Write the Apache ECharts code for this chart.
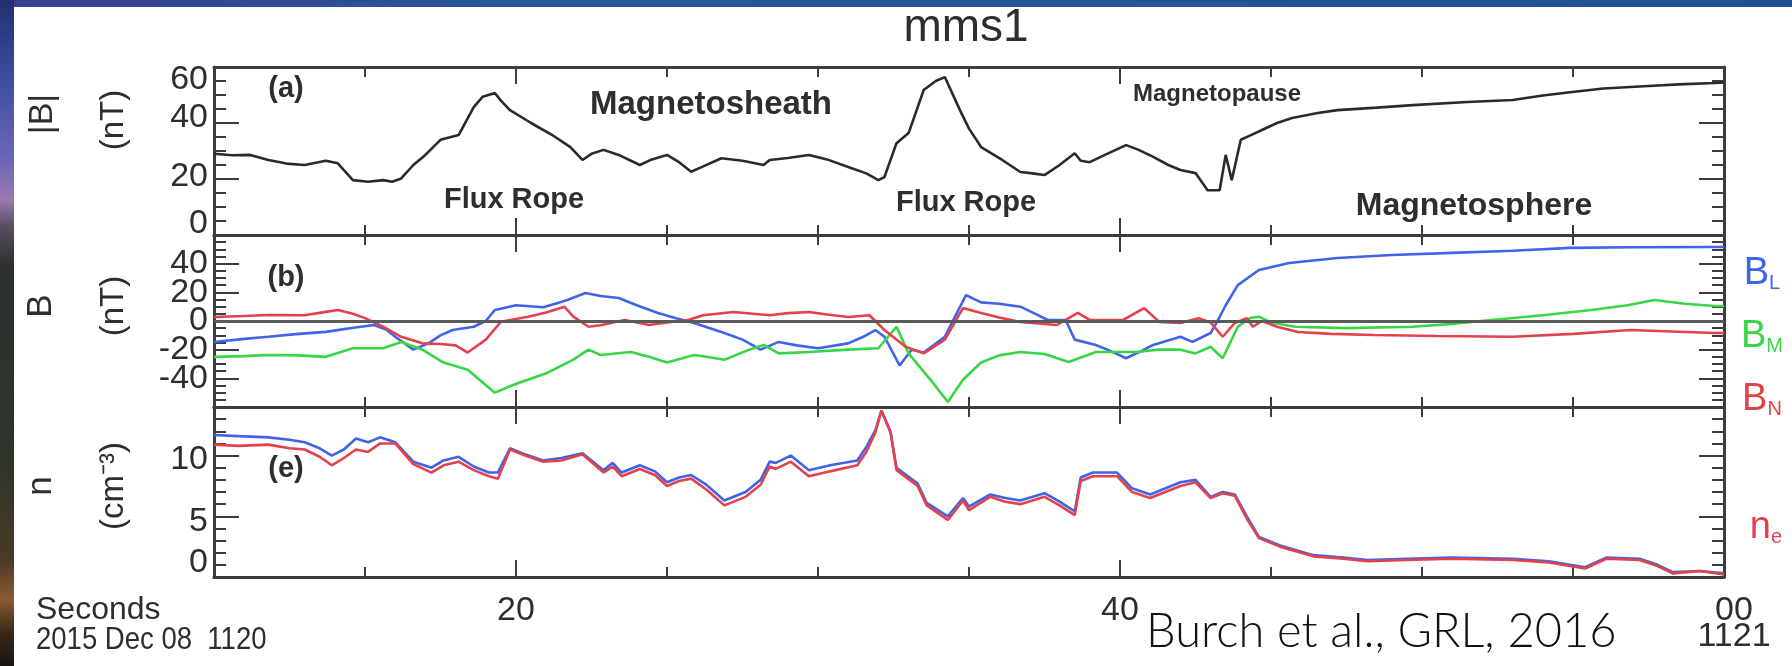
<!DOCTYPE html>
<html>
<head>
<meta charset="utf-8">
<script src="https://cdn.jsdelivr.net/npm/echarts@6/dist/echarts.min.js"></script>
<style>
  html, body { margin: 0; padding: 0; background: #ffffff; }
  #chart { width: 1792px; height: 666px; }
</style>
</head>
<body>
<div id="chart"></div>
<script>
// MMS1 burst data, 2015 Dec 08 11:20:10 - 11:21:00 UT (time in seconds after 11:20:00)

// |B| (nT)
const bMagTime = [10.0, 10.6, 11.2, 11.8, 12.4, 13.0, 13.7, 14.1, 14.6, 15.1, 15.6, 15.9, 16.2, 16.6, 17.0, 17.5, 18.1, 18.6, 18.9, 19.3, 19.5, 19.8, 20.5, 21.2, 21.8, 22.2, 22.5, 22.9, 23.4, 24.1, 24.5, 25.0, 25.4, 25.8, 26.2, 26.8, 27.5, 28.2, 28.4, 29.0, 29.7, 30.3, 31.0, 31.6, 32.0, 32.2, 32.6, 33.0, 33.5, 33.9, 34.2, 34.7, 35.0, 35.4, 36.1, 36.7, 37.1, 37.5, 38.0, 38.5, 38.7, 39.0, 39.5, 40.2, 40.6, 41.1, 41.6, 42.0, 42.5, 42.9, 43.3, 43.5, 43.7, 44.0, 44.3, 44.7, 45.2, 45.7, 46.5, 47.2, 48.5, 49.7, 51.5, 53.0, 54.0, 54.9, 56.0, 57.5, 58.5, 59.7, 60.0];
const bMag = [29, 28.5, 28.6, 26.8, 25.5, 25, 26.5, 25.6, 19.6, 19, 19.6, 19, 20.2, 25, 28.6, 34, 35.7, 45.7, 49.4, 50.7, 48, 44.6, 40, 35.7, 31.4, 26.8, 29, 30.4, 28.6, 25, 27, 28.6, 26, 22.6, 24.5, 27.4, 26.5, 25, 26.8, 27.5, 28.6, 27, 24.3, 22, 19.6, 20.7, 32.8, 36.4, 51.8, 55, 56.4, 44.6, 38, 31.4, 26.8, 22.5, 22, 21.4, 25, 29.2, 26.5, 26, 28.6, 32.1, 30.5, 27.9, 25, 23.2, 22.1, 16, 16, 28.6, 19.6, 34, 35.5, 37.5, 40, 41.8, 43.5, 44.6, 45.5, 46.4, 47.5, 48.2, 49.8, 51, 52.3, 53.2, 53.8, 54.3, 54.5];

// B_L (nT)
const bLTime = [10.0, 11.0, 11.8, 12.8, 13.7, 14.5, 15.3, 15.7, 16.0, 16.6, 17.1, 17.5, 17.9, 18.6, 19.0, 19.3, 20.0, 20.9, 21.3, 21.7, 22.3, 22.8, 23.4, 24.0, 24.7, 25.3, 25.9, 26.9, 27.5, 28.1, 28.7, 29.3, 30.0, 31.0, 31.5, 31.9, 32.2, 32.7, 33.1, 33.5, 34.2, 34.9, 35.4, 36.0, 36.7, 37.2, 37.6, 38.2, 38.5, 39.2, 39.7, 40.2, 40.7, 41.1, 42.0, 42.4, 43.0, 43.3, 43.5, 43.9, 44.6, 45.6, 47.2, 49.0, 51.0, 53.0, 54.9, 57.0, 59.7, 60.0];
const bL = [-14.6, -12.5, -11, -9, -7.6, -5, -2.8, -6, -11, -20, -15.6, -10, -6.3, -4, 0, 7.7, 11, 9.6, 12, 14.7, 19.5, 17.5, 16, 11, 5.6, 2, -1.4, -8.4, -13, -20, -14.6, -17, -19, -15.6, -11, -6.3, -11, -31, -20, -22, -11, 18, 13, 12, 10, 5, 0.7, 0.7, -13, -16.7, -21, -26, -21, -16.7, -11, -14.6, -8.4, 2.8, 11, 25, 35.6, 40.5, 44, 46, 47.5, 49, 51, 51.5, 51.6, 51.6];

// B_M (nT)
const bMTime = [10.0, 11.0, 11.8, 12.8, 13.7, 14.6, 15.6, 16.2, 16.9, 17.6, 18.4, 19.3, 19.9, 21.0, 21.9, 22.4, 22.8, 23.8, 24.4, 25.0, 25.9, 26.3, 26.9, 27.6, 28.2, 28.7, 29.7, 31.0, 32.0, 32.6, 33.0, 33.8, 34.3, 34.8, 35.4, 36.0, 36.7, 37.5, 38.3, 39.2, 40.5, 41.3, 42.0, 42.5, 43.0, 43.4, 43.9, 44.3, 44.6, 45.0, 45.8, 47.5, 49.7, 51.0, 52.3, 54.0, 55.6, 56.8, 57.7, 58.7, 59.7, 60.0];
const bM = [-25, -24.5, -23.7, -24, -25, -19, -19, -14.6, -20, -29, -34, -50, -44.7, -36.5, -27, -20, -23.7, -21.6, -25, -29, -23.7, -25, -27, -21, -16.7, -22.6, -21.6, -20, -19, -4, -22.6, -43, -56.5, -41, -29, -24, -21.6, -23, -28.6, -21.6, -21.6, -20, -20, -22.6, -18, -26, -4, 2, 3, -1, -4, -5, -4, -2, 0.7, 4, 7.7, 11, 14.7, 12, 10.5, 10.5];

// B_N (nT)
const bNTime = [10.0, 11.0, 11.8, 13.0, 13.6, 14.1, 14.6, 15.0, 15.6, 16.2, 16.9, 17.5, 18.0, 18.4, 19.0, 19.5, 20.4, 21.0, 21.6, 21.9, 22.4, 22.8, 23.6, 24.4, 25.0, 25.7, 26.2, 27.2, 28.4, 29.0, 29.7, 30.3, 31.0, 31.7, 32.2, 32.9, 33.5, 34.2, 34.8, 35.4, 36.0, 36.7, 37.9, 38.6, 39.0, 40.1, 40.8, 41.3, 42.0, 42.6, 43.0, 43.4, 43.8, 44.2, 44.4, 44.7, 45.2, 45.9, 47.0, 48.4, 50.5, 53.0, 55.0, 56.9, 58.5, 59.7, 60.0];
const bN = [2.8, 3.5, 4.2, 4, 6, 7.7, 5, 2, -4, -11, -15.6, -16, -17, -22, -13, -0.5, 3, 6, 10, 3, -4, -3, 0.7, -2.8, -1, 0.7, 4, 6.3, 4, 5.5, 6.3, 4.5, 2.8, 4, -6.3, -18, -22.6, -13, 9, 5.6, 2.5, -0.7, -2.8, 5.6, 0.7, 0.7, 9, -0.7, -1.4, 2, -1, -11, -1.4, 2, -4, 0, -4, -7.7, -9, -9.8, -10.5, -11, -9, -6.3, -7.5, -8.4, -8.4];

// ion (blue) and electron (red) densities (cm^-3)
const nTime = [10.0, 10.8, 11.8, 12.5, 13.0, 13.5, 13.9, 14.3, 14.7, 15.1, 15.5, 16.0, 16.6, 17.2, 17.6, 18.1, 18.6, 19.1, 19.4, 19.8, 20.3, 20.9, 21.5, 22.2, 22.9, 23.2, 23.5, 24.1, 24.6, 25.0, 25.4, 25.8, 26.3, 26.9, 27.6, 28.1, 28.4, 28.6, 29.1, 29.7, 30.4, 31.3, 31.6, 31.9, 32.1, 32.4, 32.6, 33.3, 33.6, 34.3, 34.8, 35.0, 35.7, 36.2, 36.7, 37.5, 38.0, 38.5, 38.7, 39.1, 39.9, 40.4, 41.0, 42.0, 42.5, 43.0, 43.4, 43.8, 44.2, 44.6, 45.3, 46.4, 47.4, 48.2, 49.5, 51.0, 53.0, 54.2, 54.9, 55.4, 56.1, 57.2, 57.8, 58.3, 59.2, 60.0];
const nIon = [11.7, 11.6, 11.5, 11.3, 11.1, 10.6, 10, 10.5, 11.4, 11.1, 11.5, 11.1, 9.5, 9, 9.6, 9.9, 9.1, 8.6, 8.6, 10.6, 10.1, 9.6, 9.8, 10.2, 8.8, 9.4, 8.6, 9.2, 8.7, 7.8, 8.2, 8.4, 7.6, 6.3, 7, 8, 9.5, 9.4, 10, 8.8, 9.2, 9.6, 10.7, 12.1, 13.7, 12, 9, 7.7, 6.1, 5, 6.5, 5.8, 6.8, 6.5, 6.3, 6.9, 6.2, 5.4, 8.2, 8.6, 8.6, 7.3, 6.8, 7.8, 8, 6.6, 7, 6.8, 5, 3.3, 2.6, 1.8, 1.6, 1.4, 1.5, 1.6, 1.5, 1.3, 1.0, 0.8, 1.6, 1.5, 1.0, 0.4, 0.5, 0.3];
const nElec = [10.9, 10.8, 10.9, 10.6, 10.5, 9.9, 9.2, 9.8, 10.5, 10.3, 11, 11, 9.3, 8.6, 9.2, 9.5, 8.8, 8.3, 8.1, 10.5, 10, 9.5, 9.6, 10.1, 8.6, 9.1, 8.3, 8.9, 8.4, 7.5, 7.9, 8.1, 7.2, 5.9, 6.6, 7.6, 9.1, 8.9, 9.5, 8.3, 8.7, 9.2, 10.3, 11.9, 13.7, 11.9, 8.8, 7.5, 5.9, 4.7, 6.3, 5.5, 6.6, 6.2, 6.0, 6.6, 5.9, 5.1, 7.9, 8.3, 8.3, 7.0, 6.5, 7.5, 7.8, 6.5, 6.9, 6.7, 4.8, 3.2, 2.5, 1.7, 1.5, 1.3, 1.4, 1.5, 1.4, 1.2, 0.9, 0.7, 1.5, 1.4, 0.9, 0.3, 0.5, 0.2];

// axis ranges and tick labels
const timeRange = [10, 60];
const timeLabelValues = [20, 40, 60];
const timeLabelText = ['20', '40', '00\n1121'];
const longTickValues = [20, 40];
const panelRanges = [
  { min: 0, max: 60, interval: 20, minor: 4 },
  { min: -60, max: 60, interval: 20, minor: 4 },
  { min: 0, max: 14, interval: 5, minor: 5 }
];

const zip = (t, v) => t.map((x, i) => [x, v[i]]);

const FONT = '"Liberation Sans", Arial, Helvetica, sans-serif';
const AXIS_COLOR = '#3c3c3c';
const TEXT_COLOR = '#2e2e2e';
const BLUE = '#4063ea';
const GREEN = '#38d646';
const RED = '#e4424a';
const TICK_FONT = 34;

// panel geometry (pixels)
const PLOT_LEFT = 214, PLOT_WIDTH = 1510;
const panelBoxes = [
  { top: 67, height: 168 },
  { top: 235, height: 172 },
  { top: 407, height: 170 }
];
// vertical nudges (px, + = down) for end labels so they clear the panel edges
const labelNudge = [
  { 60: 13, 40: -5, 20: -2, 0: -11 },
  {},
  { 10: 4, 5: 5, 0: -14 }
];

const grids = panelBoxes.map(b => ({ left: PLOT_LEFT, width: PLOT_WIDTH, top: b.top, height: b.height, containLabel: false }));

const labelRich = {};
for (let d = -20; d <= 20; d++) {
  labelRich['d' + (d + 20)] = {
    fontFamily: FONT, fontSize: TICK_FONT, color: TEXT_COLOR,
    padding: d >= 0 ? [2 * d, 0, 0, 0] : [0, 0, -2 * d, 0]
  };
}

const xAxes = [];
const yAxes = [];
panelBoxes.forEach((b, i) => {
  ['bottom', 'top'].forEach(pos => {
    const labelled = (i === 2 && pos === 'bottom');
    // border with 5-second ticks
    xAxes.push({
      type: 'value', gridIndex: i, position: pos,
      min: timeRange[0], max: timeRange[1], interval: 5,
      axisLine: { show: true, onZero: false, lineStyle: { color: AXIS_COLOR, width: 3 } },
      axisTick: { show: true, inside: true, length: 10, lineStyle: { color: AXIS_COLOR, width: 2 } },
      axisLabel: labelled ? {
        show: true, customValues: timeLabelValues, margin: 21,
        fontFamily: FONT, fontSize: TICK_FONT, color: TEXT_COLOR, lineHeight: 26,
        formatter: v => {
          const t = timeLabelText[timeLabelValues.indexOf(v)];
          return v === timeRange[1] ? t.split('\n').map(s => '{end|' + s + '}').join('\n') : t;
        },
        rich: { end: { fontFamily: FONT, fontSize: TICK_FONT, color: TEXT_COLOR, lineHeight: 26, padding: [0, 0, 0, 20] } }
      } : { show: false },
      splitLine: { show: false }
    });
    // longer ticks at the labelled times
    xAxes.push({
      type: 'value', gridIndex: i, position: pos,
      min: timeRange[0], max: timeRange[1],
      axisLine: { show: false, onZero: false },
      axisTick: { show: true, inside: true, length: 17, customValues: longTickValues, lineStyle: { color: AXIS_COLOR, width: 2 } },
      axisLabel: { show: false },
      splitLine: { show: false }
    });
  });
  ['left', 'right'].forEach(pos => {
    const r = panelRanges[i];
    yAxes.push({
      type: 'value', gridIndex: i, position: pos,
      min: r.min, max: r.max, interval: r.interval,
      axisLine: { show: true, onZero: false, lineStyle: { color: AXIS_COLOR, width: 3 } },
      axisTick: { show: true, inside: true, length: 25, lineStyle: { color: AXIS_COLOR, width: 2 } },
      minorTick: { show: true, splitNumber: r.minor, length: 12, lineStyle: { color: AXIS_COLOR, width: 2 } },
      axisLabel: pos === 'left' ? {
        show: true, margin: 6, fontFamily: FONT, fontSize: TICK_FONT, color: TEXT_COLOR,
        showMinLabel: i !== 1, showMaxLabel: i === 0,
        formatter: v => '{d' + ((labelNudge[i][v] || 0) + 20) + '|' + v + '}',
        rich: labelRich
      } : { show: false },
      splitLine: { show: false }
    });
  });
});

// axis index helpers: 4 x-axes and 2 y-axes per panel
const xIdx = i => i * 4;
const yIdx = i => i * 2;

const line = (name, data, panel, color, width) => ({
  name, type: 'line', data, xAxisIndex: xIdx(panel), yAxisIndex: yIdx(panel),
  showSymbol: false, symbol: 'none', smooth: false,
  lineStyle: { color, width }, itemStyle: { color }, z: 3
});

const series = [
  line('|B|', zip(bMagTime, bMag), 0, '#2a2a2a', 2.6),
  Object.assign(line('B_L', zip(bLTime, bL), 1, BLUE, 2.6), {
    markLine: {
      silent: true, symbol: 'none', animation: false,
      label: { show: false },
      lineStyle: { color: '#5a5a5a', width: 3, type: 'solid' },
      data: [{ yAxis: 0 }]
    }
  }),
  line('B_M', zip(bMTime, bM), 1, GREEN, 2.6),
  line('B_N', zip(bNTime, bN), 1, RED, 2.6),
  line('n_i', zip(nTime, nIon), 2, BLUE, 2.6),
  line('n_e', zip(nTime, nElec), 2, RED, 2.6)
];

const txt = (x, y, text, extra) => ({
  type: 'text', x, y, z: 10,
  style: Object.assign({ text, fontFamily: FONT, fill: TEXT_COLOR, align: 'center', verticalAlign: 'middle' }, extra || {})
});
const vtxt = (x, y, text, size) => Object.assign(txt(x, y, text, { fontSize: size }), { rotation: Math.PI / 2 });
const compLabel = (x, y, main, sub, color) => txt(x, y, '{b|' + main + '}{s|' + sub + '}', {
  rich: {
    b: { fontSize: 38, fontFamily: FONT, fill: color, color },
    s: { fontSize: 20, fontFamily: FONT, fill: color, color, padding: [18, 0, 0, 0] }
  }
});

const graphic = [
  // slide frame: blue band on top, photo strip on the left
  {
    type: 'rect', z: 0, shape: { x: 0, y: 0, width: 1792, height: 7 },
    style: { fill: new echarts.graphic.LinearGradient(0, 0, 1, 0, [
      { offset: 0, color: '#3a3f8f' }, { offset: 0.3, color: '#2a57a0' }, { offset: 1, color: '#1f5296' }
    ]) }
  },
  {
    type: 'rect', z: 0, shape: { x: 0, y: 0, width: 14, height: 666 },
    style: { fill: new echarts.graphic.LinearGradient(0, 0, 0, 1, [
      { offset: 0, color: '#23306e' }, { offset: 0.12, color: '#3d4ea0' }, { offset: 0.24, color: '#6c66b6' },
      { offset: 0.3, color: '#9a7ab0' }, { offset: 0.34, color: '#5a4c62' }, { offset: 0.4, color: '#2c3030' },
      { offset: 0.7, color: '#2f3529' }, { offset: 0.84, color: '#4a3a28' }, { offset: 0.9, color: '#8a5a30' },
      { offset: 0.95, color: '#3a2818' }, { offset: 1, color: '#1a1410' }
    ]) }
  },
  txt(966, 28, 'mms1', { fontSize: 46 }),
  // y-axis titles
  vtxt(43, 114, '|B|', 34), vtxt(114, 120, '(nT)', 33),
  vtxt(41, 306, 'B', 35), vtxt(114, 306, '(nT)', 33),
  vtxt(41, 486, 'n', 35), vtxt(114, 486, '(cm⁻³)', 33),
  // panel tags and region names
  txt(286, 89, '(a)', { fontSize: 29, fontWeight: 'bold' }),
  txt(286, 278, '(b)', { fontSize: 29, fontWeight: 'bold' }),
  txt(286, 469, '(e)', { fontSize: 29, fontWeight: 'bold' }),
  txt(711, 105, 'Magnetosheath', { fontSize: 33, fontWeight: 'bold' }),
  txt(514, 200, 'Flux Rope', { fontSize: 29, fontWeight: 'bold' }),
  txt(966, 203, 'Flux Rope', { fontSize: 29, fontWeight: 'bold' }),
  txt(1217, 94, 'Magnetopause', { fontSize: 24, fontWeight: 'bold' }),
  txt(1474, 206, 'Magnetosphere', { fontSize: 32, fontWeight: 'bold' }),
  // component labels
  compLabel(1762, 274, 'B', 'L', BLUE),
  compLabel(1762, 337, 'B', 'M', GREEN),
  compLabel(1762, 400, 'B', 'N', RED),
  compLabel(1766, 528, 'n', 'e', RED),
  // time axis caption
  txt(36, 610, 'Seconds', { fontSize: 32, align: 'left' }),
  Object.assign(txt(36, 640, '2015 Dec 08  1120', { fontSize: 32, align: 'left' }), { scaleX: 0.86, originX: 0, originY: 0 }),
  // citation
  txt(1146, 632, 'Burch et al., GRL, 2016', { fontSize: 47, align: 'left', fontWeight: 300, fontFamily: 'Lato, "Open Sans", sans-serif', fill: '#111111' })
];

const chart = echarts.init(document.getElementById('chart'), null, { renderer: 'canvas' });
chart.setOption({
  backgroundColor: '#ffffff',
  animation: false,
  grid: grids,
  xAxis: xAxes,
  yAxis: yAxes,
  series,
  graphic
});
</script>
</body>
</html>
